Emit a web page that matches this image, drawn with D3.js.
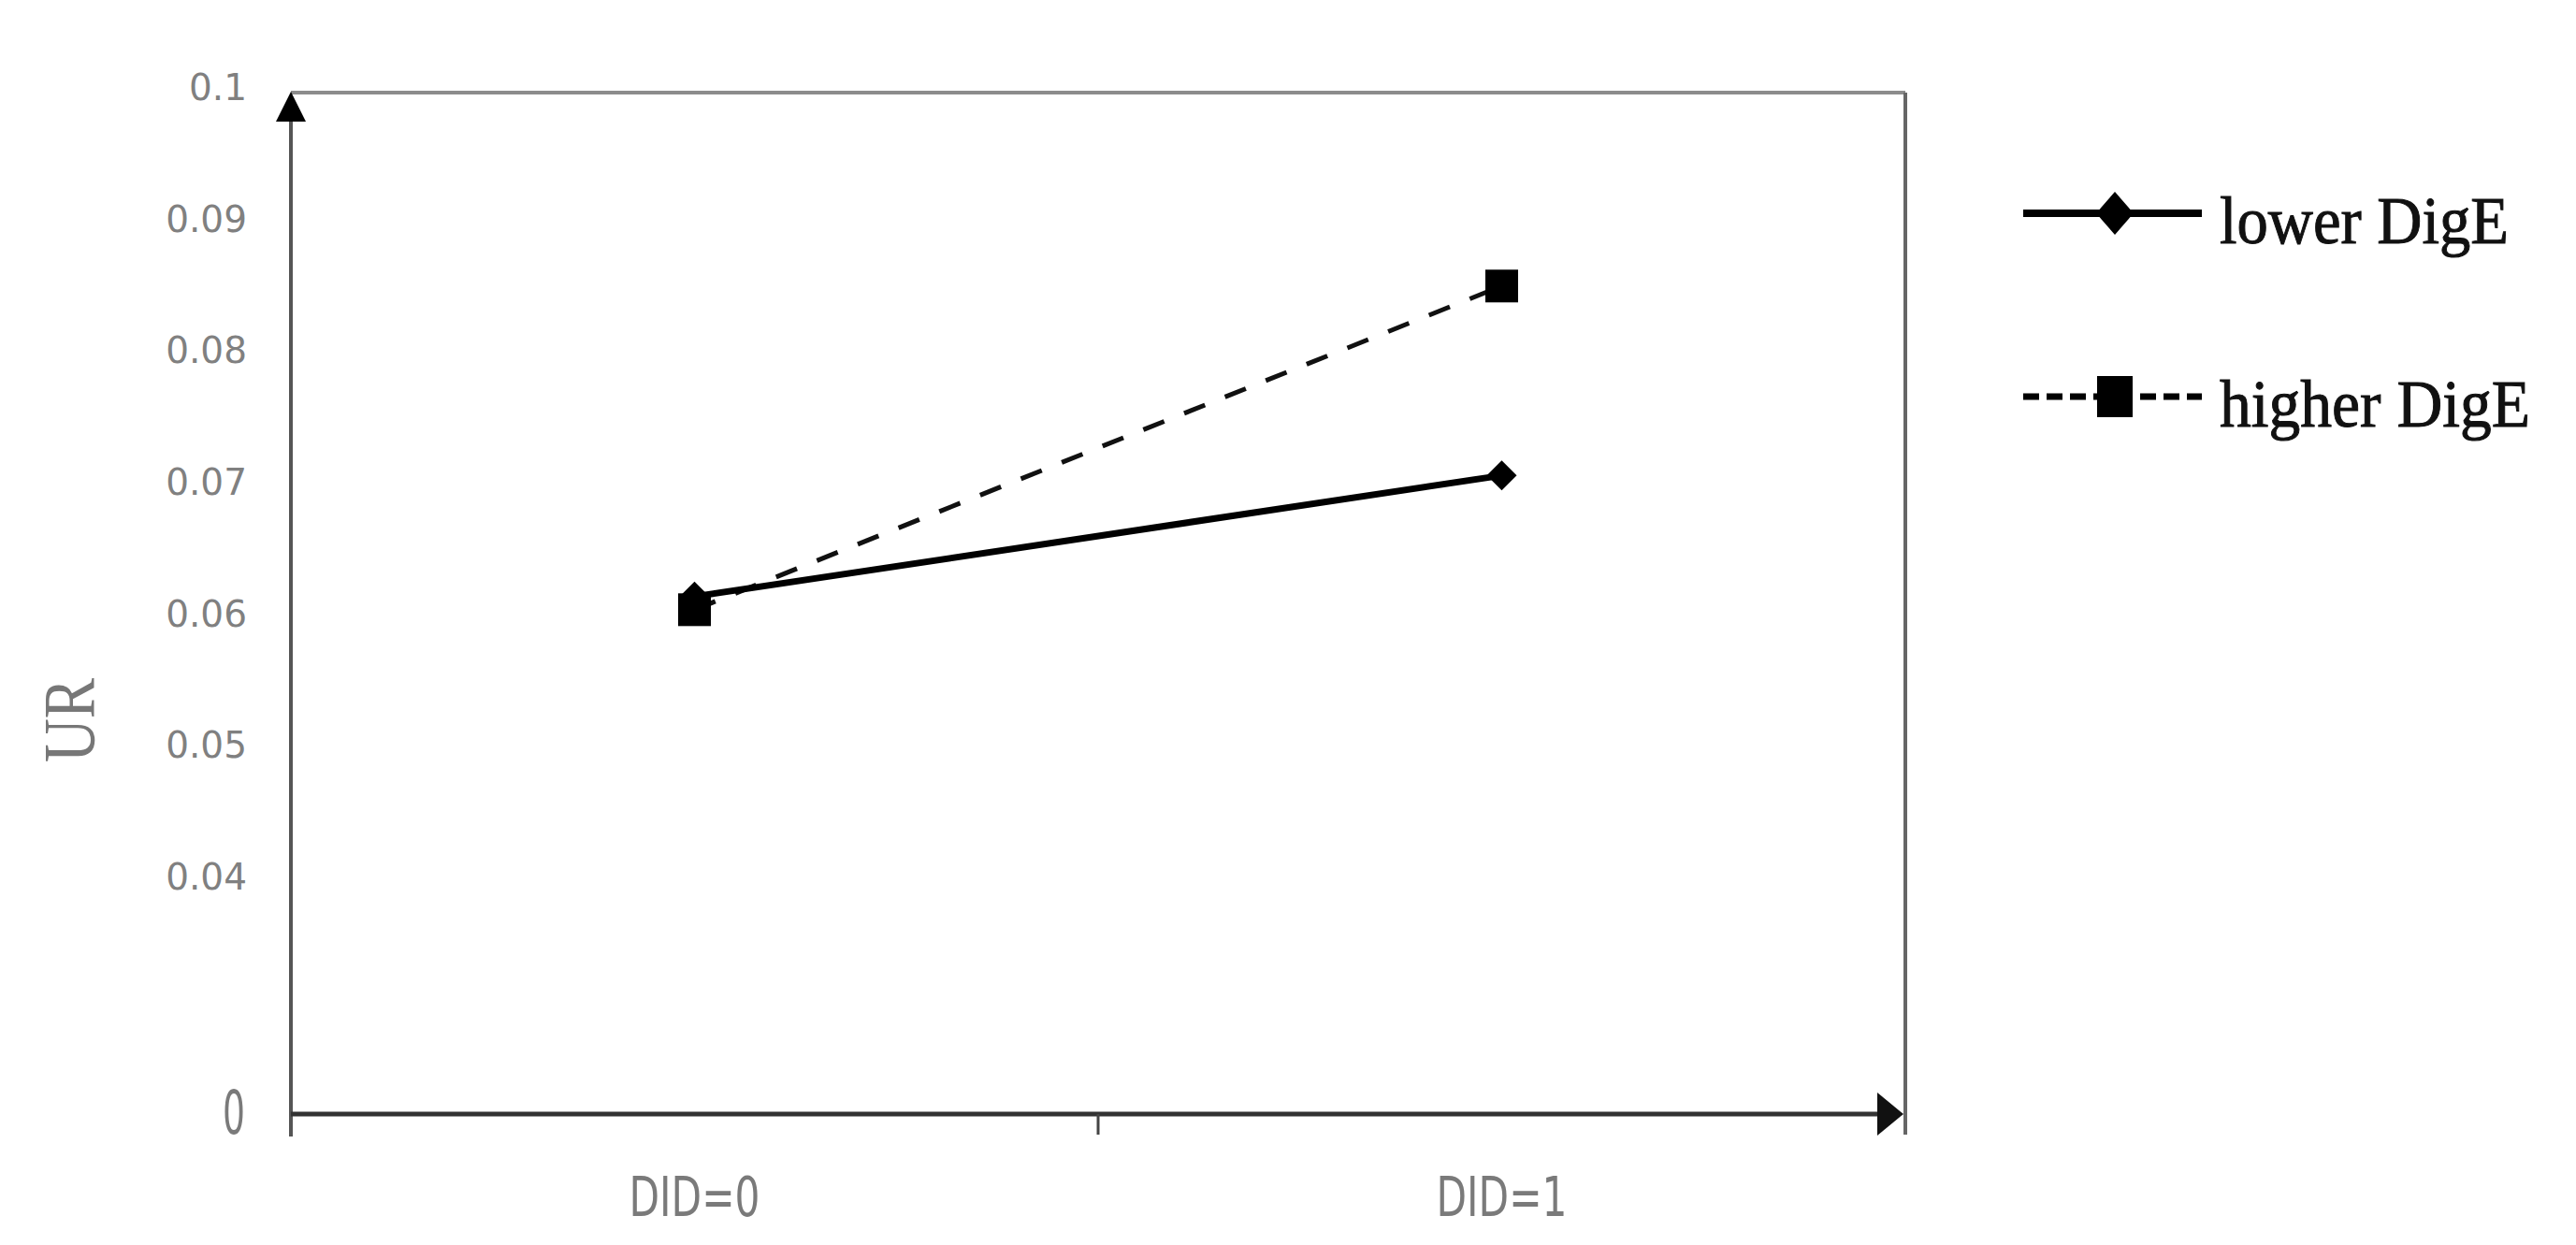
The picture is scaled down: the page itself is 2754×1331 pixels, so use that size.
<!DOCTYPE html>
<html>
<head>
<meta charset="utf-8">
<script src="https://cdn.jsdelivr.net/npm/d3@7"></script>
<style>
  html, body { margin: 0; padding: 0; background: #ffffff; }
  svg { display: block; }
</style>
</head>
<body>
<script>
// ---------------- data ----------------
const categories = ["DID=0", "DID=1"];
const seriesNames = ["lower DigE", "higher DigE"];
const lowerValues = [0.0617, 0.0709];
const higherValues = [0.0607, 0.0853];
const yTickValues = [0.04, 0.05, 0.06, 0.07, 0.08, 0.09, 0.1];
const yTickLabels = ["0.04", "0.05", "0.06", "0.07", "0.08", "0.09", "0.1"];
const zeroLabel = "0";
const yAxisTitle = "UR";

// ---------------- layout ----------------
const W = 2754, H = 1331;
const plot = { left: 311, right: 2037, top: 99, bottom: 1191 };

const svg = d3.select("body").append("svg")
  .attr("width", W).attr("height", H)
  .attr("viewBox", `0 0 ${W} ${H}`);
svg.append("rect").attr("width", W).attr("height", H).attr("fill", "#fff");

const x = d3.scaleBand().domain(categories).range([plot.left, plot.right]).padding(0);
const y = d3.scaleLinear().domain([0.04, 0.1]).range([943, plot.top]);

// frame (top and right)
svg.append("line").attr("x1", plot.left).attr("x2", plot.right)
  .attr("y1", plot.top).attr("y2", plot.top)
  .attr("stroke", "#8c8c8c").attr("stroke-width", 4);
svg.append("line").attr("x1", plot.right).attr("x2", plot.right)
  .attr("y1", plot.top).attr("y2", plot.bottom + 22)
  .attr("stroke", "#666").attr("stroke-width", 4);

// y axis line with arrow
svg.append("line").attr("x1", plot.left).attr("x2", plot.left)
  .attr("y1", plot.top + 20).attr("y2", plot.bottom + 24)
  .attr("stroke", "#555").attr("stroke-width", 4);
svg.append("path")
  .attr("d", `M${plot.left},${plot.top - 1} L${plot.left - 16},${plot.top + 31} L${plot.left + 16},${plot.top + 31} Z`)
  .attr("fill", "#000");

// x axis line with arrow
svg.append("line").attr("x1", plot.left).attr("x2", plot.right - 20)
  .attr("y1", plot.bottom).attr("y2", plot.bottom)
  .attr("stroke", "#333").attr("stroke-width", 5);
svg.append("path")
  .attr("d", `M${plot.right - 2},${plot.bottom} L${plot.right - 30},${plot.bottom - 23} L${plot.right - 30},${plot.bottom + 23} Z`)
  .attr("fill", "#111");

// x ticks at band boundaries
const boundaries = categories.map(c => x(c)).concat([x(categories[categories.length - 1]) + x.bandwidth()]);
svg.selectAll("line.xtick").data(boundaries.slice(1, -1)).enter().append("line")
  .attr("class", "xtick")
  .attr("x1", d => d).attr("x2", d => d)
  .attr("y1", plot.bottom).attr("y2", plot.bottom + 22)
  .attr("stroke", "#444").attr("stroke-width", 3);

// x labels
svg.selectAll("text.xlab").data(categories).enter().append("text")
  .attr("class", "xlab")
  .attr("x", d => x(d) + x.bandwidth() / 2)
  .attr("y", 1300)
  .attr("text-anchor", "middle")
  .attr("font-family", "'DejaVu Sans Condensed', 'DejaVu Sans', sans-serif")
  .attr("font-size", 59)
  .attr("fill", "#7a7a7a")
  .attr("textLength", 140)
  .attr("lengthAdjust", "spacingAndGlyphs")
  .text(d => d);

// y tick labels via axis
const yAxis = d3.axisLeft(y).tickValues(yTickValues)
  .tickFormat((d, i) => yTickLabels[i]).tickSize(0).tickPadding(0);
const gy = svg.append("g").attr("transform", `translate(264,-5)`).call(yAxis);
gy.select(".domain").remove();
gy.selectAll("text")
  .attr("font-family", "'DejaVu Sans', sans-serif")
  .attr("font-size", 39)
  .attr("fill", "#808080");

// zero label
svg.append("text")
  .attr("x", 250).attr("y", plot.bottom + 21)
  .attr("text-anchor", "middle")
  .attr("font-family", "'DejaVu Sans Condensed', 'DejaVu Sans', sans-serif")
  .attr("font-size", 64)
  .attr("fill", "#7a7a7a")
  .attr("textLength", 24)
  .attr("lengthAdjust", "spacingAndGlyphs")
  .text(zeroLabel);

// y axis title
svg.append("text")
  .attr("transform", "translate(100,770) rotate(-90)")
  .attr("text-anchor", "middle")
  .attr("font-family", "'Liberation Serif', 'Times New Roman', serif")
  .attr("font-size", 78)
  .attr("fill", "#777")
  .attr("textLength", 90)
  .attr("lengthAdjust", "spacingAndGlyphs")
  .text(yAxisTitle);

// ---------------- series ----------------
const lineGen = d3.line().x((d, i) => x(categories[i]) + x.bandwidth() / 2).y(d => y(d));

// higher (dashed)
svg.append("path").datum(higherValues)
  .attr("d", lineGen).attr("fill", "none")
  .attr("stroke", "#111").attr("stroke-width", 5)
  .attr("stroke-dasharray", "24,23");
// lower (solid)
svg.append("path").datum(lowerValues)
  .attr("d", lineGen).attr("fill", "none")
  .attr("stroke", "#000").attr("stroke-width", 7);

// square markers (higher)
const sq = 35;
svg.selectAll("rect.hm").data(higherValues).enter().append("rect")
  .attr("class", "hm")
  .attr("x", (d, i) => x(categories[i]) + x.bandwidth() / 2 - sq / 2)
  .attr("y", d => y(d) - sq / 2)
  .attr("width", sq).attr("height", sq)
  .attr("fill", "#000");

// diamond markers (lower)
const dm = 16;
svg.selectAll("path.lm").data(lowerValues).enter().append("path")
  .attr("class", "lm")
  .attr("d", (d, i) => {
    const cx = x(categories[i]) + x.bandwidth() / 2, cy = y(d);
    return `M${cx},${cy - dm} L${cx + dm},${cy} L${cx},${cy + dm} L${cx - dm},${cy} Z`;
  })
  .attr("fill", "#000");

// ---------------- legend ----------------
const legend = svg.append("g");
const legY = [228, 424];
const legX1 = 2163, legX2 = 2354, legMid = 2261;

// lower
legend.append("line").attr("x1", legX1).attr("x2", legX2)
  .attr("y1", legY[0]).attr("y2", legY[0])
  .attr("stroke", "#000").attr("stroke-width", 8);
legend.append("path")
  .attr("d", `M${legMid},${legY[0] - 23} L${legMid + 20},${legY[0]} L${legMid},${legY[0] + 23} L${legMid - 20},${legY[0]} Z`)
  .attr("fill", "#000");
// higher
legend.append("line").attr("x1", legX1).attr("x2", legX2)
  .attr("y1", legY[1]).attr("y2", legY[1])
  .attr("stroke", "#000").attr("stroke-width", 7)
  .attr("stroke-dasharray", "17,8");
legend.append("rect")
  .attr("x", legMid - 19).attr("y", legY[1] - 22)
  .attr("width", 38).attr("height", 44)
  .attr("fill", "#000");

const legTextLen = [309, 332];
legend.selectAll("text.leg").data(seriesNames).enter().append("text")
  .attr("class", "leg")
  .attr("x", 2373)
  .attr("y", (d, i) => legY[i] + 32)
  .attr("font-family", "'Liberation Serif', 'Times New Roman', serif")
  .attr("font-size", 72)
  .attr("fill", "#111")
  .attr("stroke", "#111")
  .attr("stroke-width", 1)
  .attr("textLength", (d, i) => legTextLen[i])
  .attr("lengthAdjust", "spacingAndGlyphs")
  .text(d => d);
</script>
</body>
</html>
